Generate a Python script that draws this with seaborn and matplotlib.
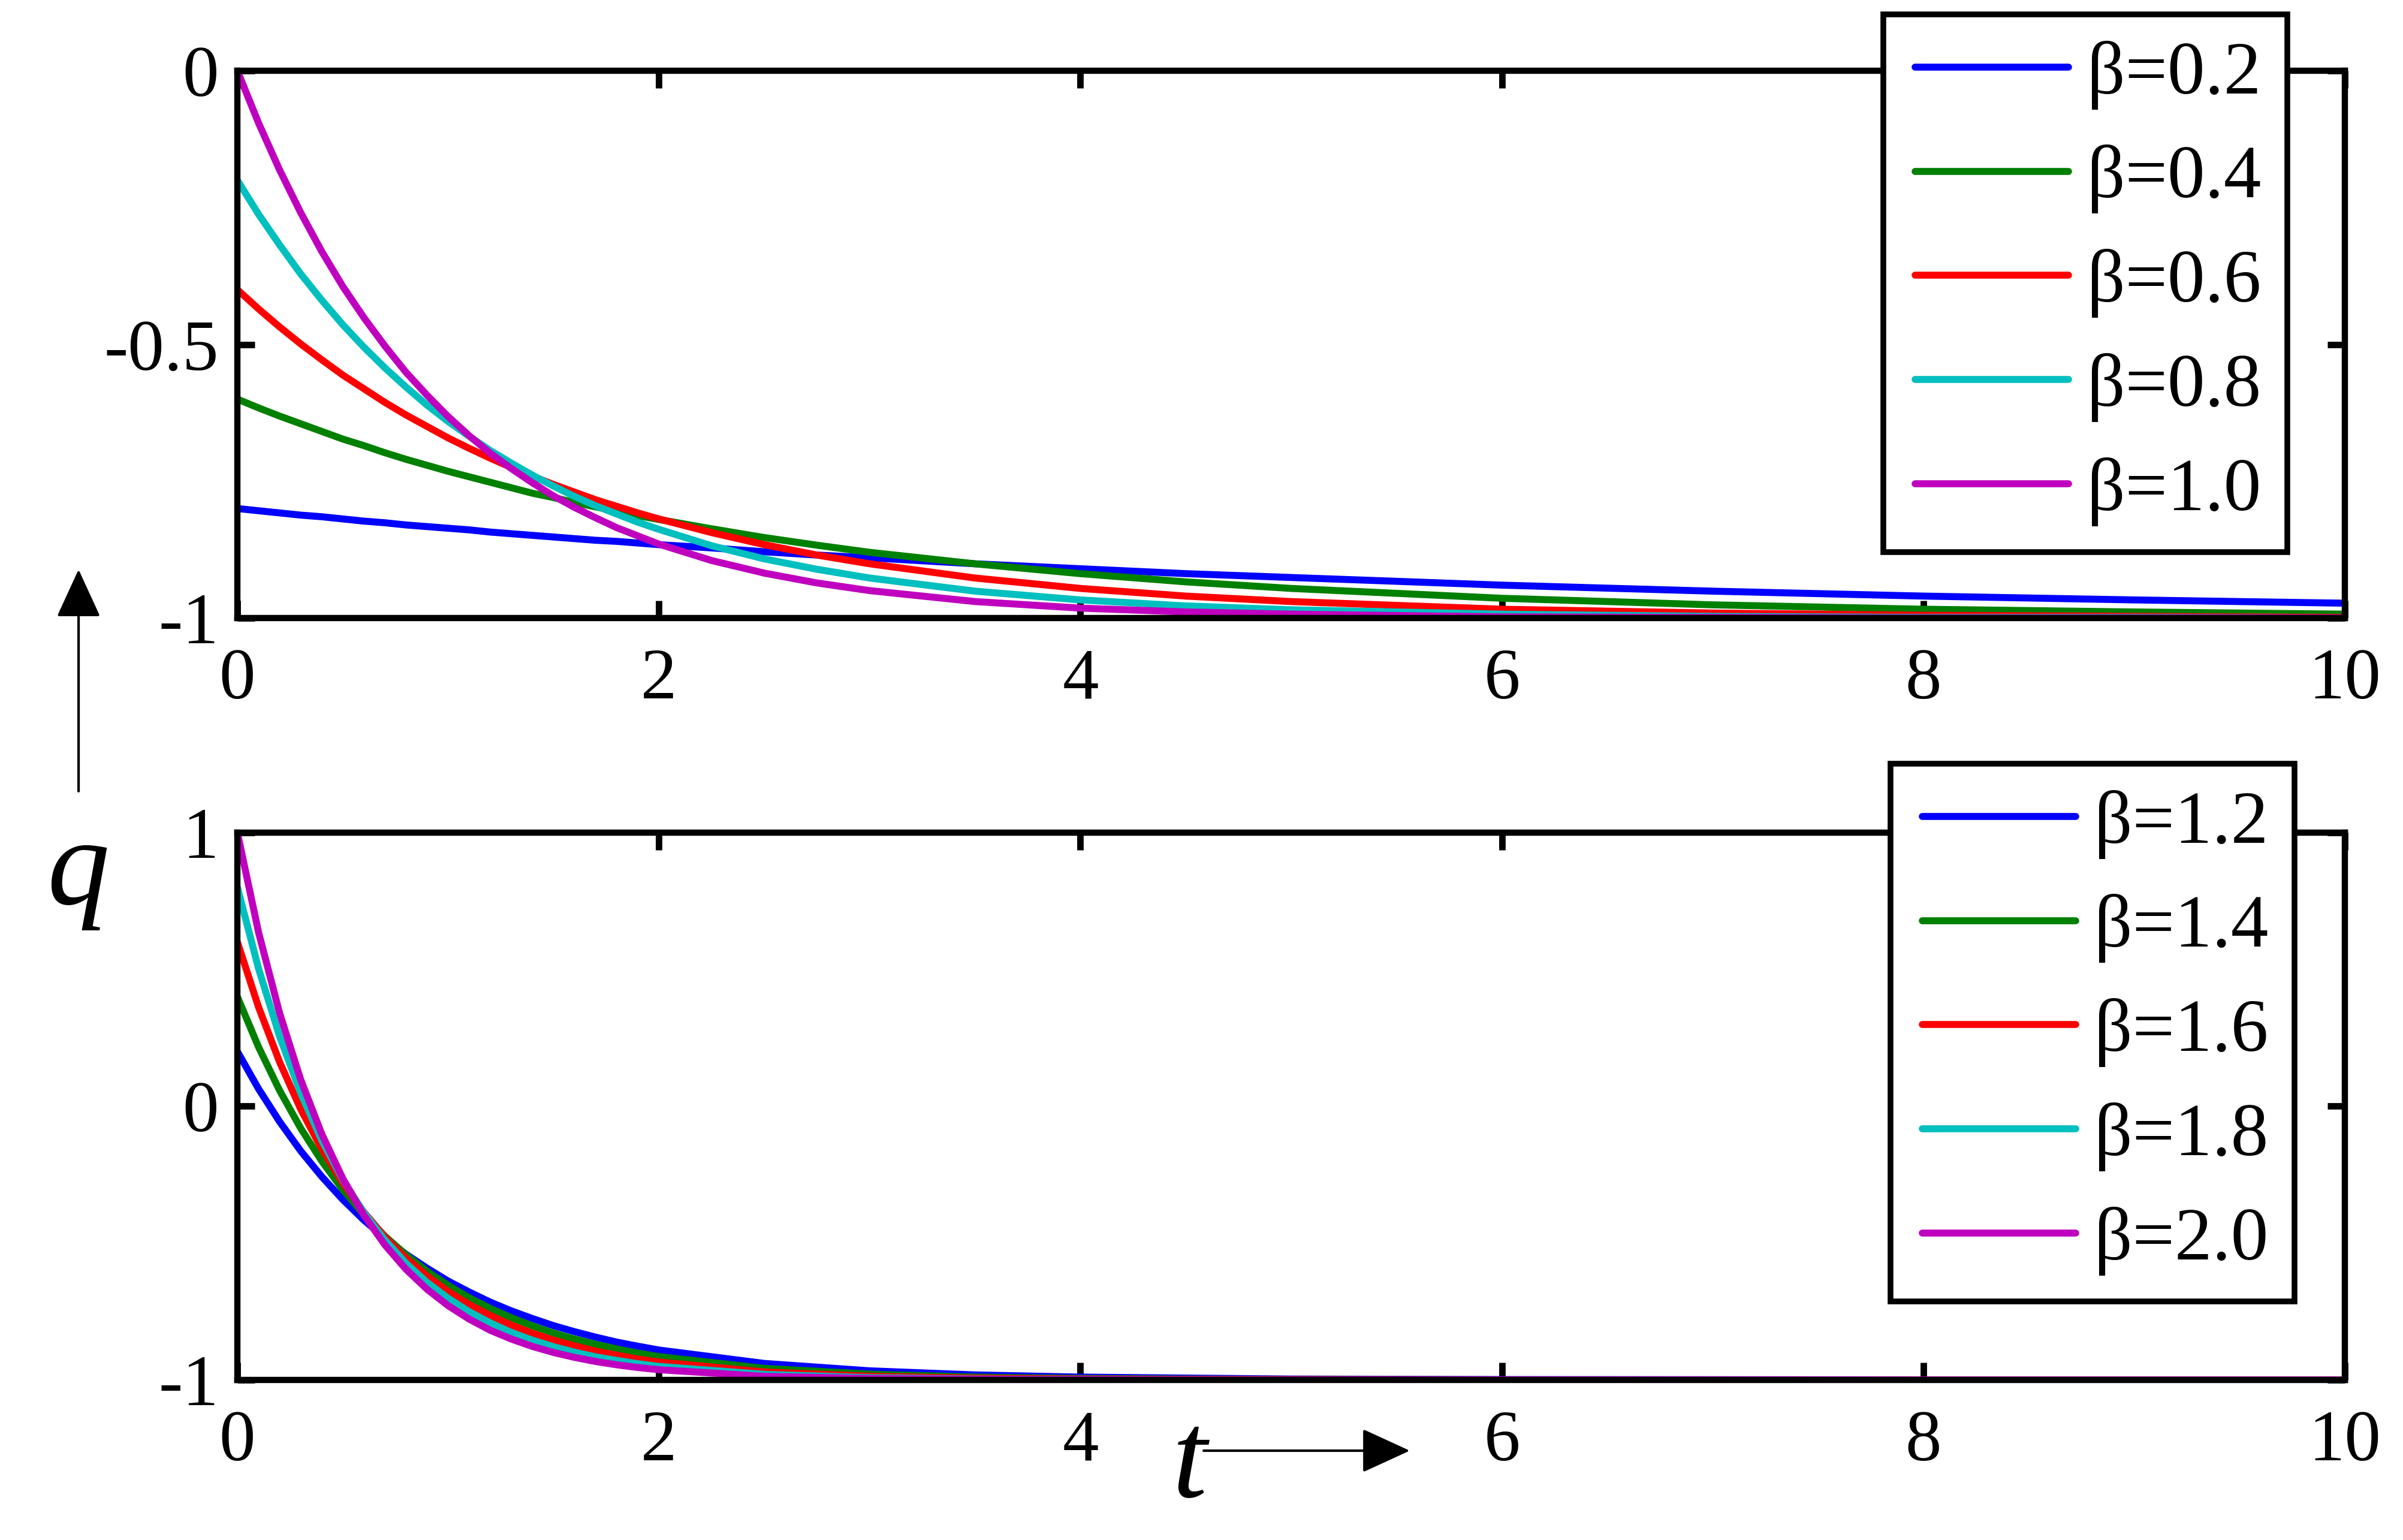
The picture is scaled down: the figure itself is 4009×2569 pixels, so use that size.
import pandas as pd
import seaborn as sns
import matplotlib.pyplot as plt
from matplotlib.lines import Line2D
from matplotlib.legend_handler import HandlerLine2D

# upper panel, beta = 0.2 ... 1.0
t_top = [0, 0.1, 0.2, 0.3, 0.4, 0.5, 0.6, 0.7, 0.8, 0.9, 1.0, 1.1, 1.2,
         1.3, 1.4, 1.5, 1.6, 1.7, 1.8, 1.9, 2.0, 2.25, 2.5, 2.75, 3, 3.5,
         4, 4.5, 5, 6, 7, 8, 9, 10]
q_b02 = [-0.800, -0.804, -0.808, -0.812, -0.815, -0.819, -0.823, -0.826,
         -0.830, -0.833, -0.836, -0.839, -0.843, -0.846, -0.849, -0.852,
         -0.855, -0.858, -0.860, -0.863, -0.866, -0.872, -0.879, -0.885,
         -0.890, -0.901, -0.910, -0.919, -0.926, -0.940, -0.951, -0.960,
         -0.967, -0.973]
q_b04 = [-0.600, -0.616, -0.631, -0.645, -0.659, -0.673, -0.685, -0.698,
         -0.710, -0.721, -0.732, -0.742, -0.752, -0.762, -0.772, -0.780,
         -0.789, -0.797, -0.805, -0.813, -0.820, -0.837, -0.853, -0.867,
         -0.880, -0.901, -0.919, -0.934, -0.946, -0.964, -0.976, -0.984,
         -0.989, -0.993]
q_b06 = [-0.400, -0.435, -0.468, -0.499, -0.528, -0.556, -0.581, -0.606,
         -0.629, -0.650, -0.671, -0.690, -0.708, -0.725, -0.741, -0.756,
         -0.770, -0.784, -0.796, -0.808, -0.819, -0.844, -0.866, -0.885,
         -0.901, -0.927, -0.946, -0.960, -0.970, -0.984, -0.991, -0.995,
         -0.997, -0.999]
q_b08 = [-0.200, -0.262, -0.318, -0.371, -0.419, -0.464, -0.505, -0.543,
         -0.578, -0.611, -0.641, -0.668, -0.694, -0.717, -0.739, -0.759,
         -0.778, -0.795, -0.810, -0.825, -0.838, -0.868, -0.892, -0.911,
         -0.927, -0.951, -0.967, -0.978, -0.985, -0.993, -0.997, -0.999,
         -0.999, -1.000]
q_b10 = [0.000, -0.095, -0.181, -0.259, -0.330, -0.394, -0.451, -0.503,
         -0.551, -0.593, -0.632, -0.667, -0.699, -0.727, -0.753, -0.777,
         -0.798, -0.817, -0.835, -0.850, -0.865, -0.895, -0.918, -0.936,
         -0.950, -0.970, -0.982, -0.989, -0.993, -0.998, -0.999, -1.000,
         -1.000, -1.000]
labels_top = ["β=0.2", "β=0.4", "β=0.6", "β=0.8", "β=1.0"]

# lower panel, beta = 1.2 ... 2.0
t_bot = [0, 0.1, 0.2, 0.3, 0.4, 0.5, 0.6, 0.7, 0.8, 0.9, 1.0, 1.1, 1.2,
         1.3, 1.4, 1.5, 1.6, 1.7, 1.8, 1.9, 2.0, 2.5, 3, 3.5, 4, 5, 6, 8, 10]
q_b12 = [0.200, 0.064, -0.056, -0.163, -0.257, -0.341, -0.416, -0.482,
         -0.541, -0.592, -0.639, -0.679, -0.716, -0.748, -0.776, -0.802,
         -0.824, -0.844, -0.862, -0.877, -0.891, -0.940, -0.967, -0.982,
         -0.990, -0.997, -0.999, -1.000, -1.000]
q_b14 = [0.400, 0.217, 0.058, -0.080, -0.200, -0.305, -0.396, -0.475,
         -0.543, -0.603, -0.655, -0.700, -0.739, -0.773, -0.803, -0.829,
         -0.851, -0.870, -0.887, -0.902, -0.915, -0.958, -0.979, -0.990,
         -0.995, -0.999, -1.000, -1.000, -1.000]
q_b16 = [0.600, 0.363, 0.162, -0.010, -0.156, -0.281, -0.387, -0.478,
         -0.555, -0.621, -0.677, -0.725, -0.765, -0.800, -0.830, -0.855,
         -0.876, -0.895, -0.910, -0.924, -0.935, -0.971, -0.987, -0.994,
         -0.997, -0.999, -1.000, -1.000, -1.000]
q_b18 = [0.800, 0.504, 0.256, 0.049, -0.124, -0.268, -0.389, -0.489,
         -0.574, -0.644, -0.702, -0.751, -0.792, -0.827, -0.855, -0.879,
         -0.899, -0.916, -0.929, -0.941, -0.951, -0.980, -0.992, -0.997,
         -0.999, -1.000, -1.000, -1.000, -1.000]
q_b20 = [1.000, 0.637, 0.341, 0.098, -0.101, -0.264, -0.398, -0.507,
         -0.596, -0.669, -0.729, -0.778, -0.819, -0.851, -0.878, -0.900,
         -0.918, -0.933, -0.945, -0.955, -0.963, -0.987, -0.995, -0.998,
         -0.999, -1.000, -1.000, -1.000, -1.000]
labels_bot = ["β=1.2", "β=1.4", "β=1.6", "β=1.8", "β=2.0"]

colors = ["b", "g", "r", "c", "m"]


def long_frame(t, series, labels):
    parts = [pd.DataFrame({"t": t, "q": q, "beta": lab})
             for lab, q in zip(labels, series)]
    return pd.concat(parts, ignore_index=True)


df_top = long_frame(t_top, [q_b02, q_b04, q_b06, q_b08, q_b10], labels_top)
df_bot = long_frame(t_bot, [q_b12, q_b14, q_b16, q_b18, q_b20], labels_bot)

sns.set_style("ticks")
plt.rcParams["font.family"] = ["Liberation Serif", "DejaVu Serif"]
plt.rcParams["axes.unicode_minus"] = False
plt.rcParams["text.color"] = "black"

fig, axes = plt.subplots(2, 1, figsize=(4009 / 300, 2569 / 300), dpi=300)
fig.subplots_adjust(left=0.0988, right=0.9758, top=0.954, bottom=0.104,
                    hspace=0.3925)

panels = [
    (axes[0], df_top, labels_top, (-1, 0), [-1, -0.5, 0],
     ["-1", "-0.5", "0"], (0.7837, 0.9907)),
    (axes[1], df_bot, labels_bot, (-1, 1), [-1, 0, 1],
     ["-1", "0", "1"], (0.7867, 0.5041)),
]

for ax, df, labels, ylim, yticks, yticklabels, anchor in panels:
    sns.lineplot(data=df, x="t", y="q", hue="beta", hue_order=labels,
                 palette=dict(zip(labels, colors)), estimator=None,
                 sort=False, lw=2.8, ax=ax, legend=False)
    ax.set_xlim(0, 10)
    ax.set_ylim(*ylim)
    ax.set_xticks(range(0, 11, 2))
    ax.set_yticks(yticks)
    ax.set_yticklabels(yticklabels)
    ax.set_xlabel("")
    ax.set_ylabel("")
    ax.tick_params(direction="in", length=7, width=2.6, labelsize=29,
                   top=True, right=True, colors="black")
    ax.tick_params(axis="x", pad=12)
    ax.tick_params(axis="y", pad=7.5)
    for sp in ax.spines.values():
        sp.set_linewidth(2.5)
        sp.set_color("black")

    handles = [Line2D([], [], color=c, lw=2.8) for c in colors]
    leg = ax.legend(handles, labels, loc="upper left", bbox_to_anchor=anchor,
                    bbox_transform=fig.transFigure, borderaxespad=0,
                    fontsize=30, frameon=True, fancybox=False, shadow=False,
                    framealpha=1, edgecolor="black", borderpad=0.35,
                    labelspacing=0.47, handlelength=2.12, handletextpad=0.25,
                    handler_map={Line2D: HandlerLine2D(xpad=0.072)})
    leg.get_frame().set_linewidth(2.3)

# axis names with arrows
fig.text(0.0324, 0.413, "q", fontsize=50, style="italic",
         ha="center", va="baseline")
fig.text(0.4951, 0.028, "t", fontsize=50, style="italic",
         ha="center", va="baseline")
arrow = dict(arrowstyle="-|>,head_length=0.85,head_width=0.39",
             color="black", lw=1.0, shrinkA=0, shrinkB=0, mutation_scale=20)
axes[1].annotate("", xy=(0.0327, 0.6302), xytext=(0.0327, 0.4862),
                 xycoords="figure fraction", textcoords="figure fraction",
                 arrowprops=arrow, annotation_clip=False)
axes[1].annotate("", xy=(0.5867, 0.058), xytext=(0.5009, 0.058),
                 xycoords="figure fraction", textcoords="figure fraction",
                 arrowprops=arrow, annotation_clip=False)

fig.savefig("out.png", dpi=300, facecolor="white")
